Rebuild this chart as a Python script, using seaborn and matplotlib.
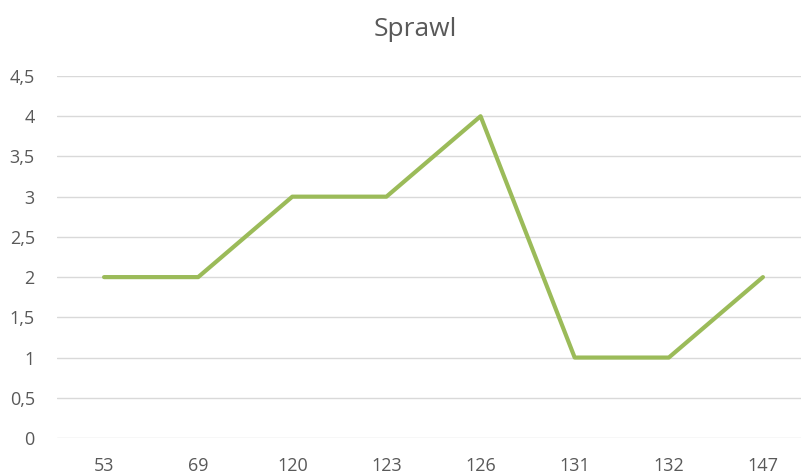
import matplotlib
matplotlib.use("Agg")
import matplotlib.pyplot as plt
import seaborn as sns
import pandas as pd

# data
categories = ["53", "69", "120", "123", "126", "131", "132", "147"]
values = [2, 2, 3, 3, 4, 1, 1, 2]

df = pd.DataFrame({"cat": categories, "val": values})
df["pos"] = range(len(categories))

sns.set_theme(style="white")
plt.rcParams["font.family"] = ["Open Sans", "DejaVu Sans"]

fig = plt.figure(figsize=(8.01, 4.75), dpi=100)
ax = fig.add_axes([57 / 801, 37 / 475, 753 / 801, 362 / 475])

sns.lineplot(data=df, x="pos", y="val", color="#9BBB59", linewidth=3, ax=ax)

ax.set_xlim(-0.5, len(categories) - 0.5)
ax.set_ylim(0, 4.5)
ax.set_xticks(df["pos"])
ax.set_xticklabels(categories)
yt = [0, 0.5, 1, 1.5, 2, 2.5, 3, 3.5, 4, 4.5]
ax.set_yticks(yt)
ax.set_yticklabels([("%g" % v).replace(".", ",") for v in yt])
ax.tick_params(axis="both", colors="#595959", labelsize=13, length=0)
ax.tick_params(axis="x", pad=14)
ax.tick_params(axis="y", pad=16)
ax.grid(axis="y", color="#D9D9D9", linewidth=1)
for s in ax.spines.values():
    s.set_visible(False)
ax.set_xlabel("")
ax.set_ylabel("")

fig.text(415 / 801, 1 - 30 / 475, "Sprawl", ha="center", va="center",
         fontsize=19, color="#595959")

fig.savefig("out.png", dpi=100)
